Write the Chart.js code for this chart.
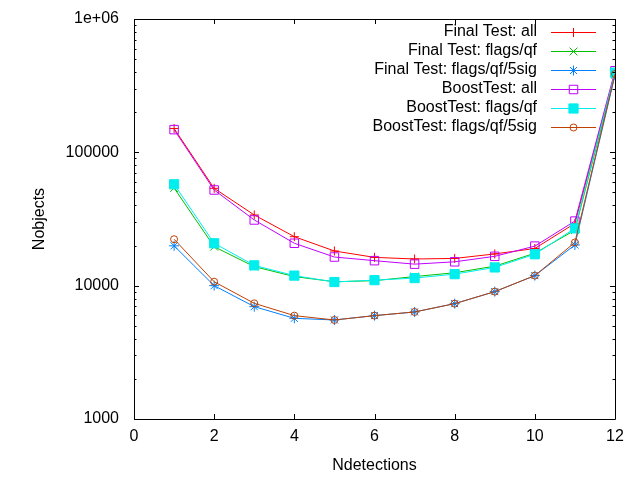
<!DOCTYPE html>
<html>
<head>
<meta charset="utf-8">
<script src="https://cdn.jsdelivr.net/npm/chart.js@4.4.1/dist/chart.umd.min.js"></script>
<style>
  html, body { margin: 0; padding: 0; background: #fff; }
  #wrap { width: 640px; height: 480px; }
</style>
</head>
<body>
<div id="wrap"><canvas id="chart" width="640" height="480"></canvas></div>
<script>
// Nombre de détections (axe x)
const ndetections = [1, 2, 3, 4, 5, 6, 7, 8, 9, 10, 11, 12];

// valeurs
const finalAll = [151000, 53700, 33900, 23300, 18200, 16300, 15850, 16000, 17300, 19000, 29300, 394000];
const finalFlags = [54000, 19600, 13900, 11700, 10700, 10900, 11700, 12500, 14000, 17500, 26100, 385000];
const final5sig = [19900, 10000, 6960, 5690, 5530, 5960, 6350, 7330, 9020, 11900, 20200, 380000];
const boostAll = [148000, 52200, 31100, 20800, 16400, 15400, 14500, 15100, 16600, 19800, 30500, 409000];
const boostFlags = [57600, 20800, 14200, 11900, 10650, 11000, 11400, 12200, 13700, 17200, 26900, 396000];
const boost5sig = [22300, 10700, 7370, 5960, 5530, 5960, 6350, 7330, 9020, 11900, 21100, 387000];

const seriesNames = [
  "Final Test: all", "Final Test: flags/qf", "Final Test: flags/qf/5sig",
  "BoostTest: all", "BoostTest: flags/qf", "BoostTest: flags/qf/5sig"
];

const xTicks = [0, 2, 4, 6, 8, 10, 12];
const yTickValues = [1000, 10000, 100000, 1000000];
const yTickLabels = ["1000", "10000", "100000", "1e+06"];

const FONT = "Liberation Sans";
Chart.defaults.font.family = FONT;
Chart.defaults.font.size = 16;
Chart.defaults.color = "#000";

function points(values) {
  return values.map((v, i) => ({ x: ndetections[i], y: v }));
}

const styles = [
  { color: "#ff0000", pointStyle: "cross", radius: 4.5, fill: false },
  { color: "#00c000", pointStyle: "crossRot", radius: 5.5, fill: false },
  { color: "#0080ff", pointStyle: "star", radius: 5, fill: false },
  { color: "#c000ff", pointStyle: "rect", radius: 6, fill: false },
  { color: "#00eeee", pointStyle: "rect", radius: 6.5, fill: true },
  { color: "#c04000", pointStyle: "circle", radius: 3.5, fill: false }
];

const allValues = [finalAll, finalFlags, final5sig, boostAll, boostFlags, boost5sig];

const datasets = allValues.map((vals, i) => ({
  label: seriesNames[i],
  data: points(vals),
  borderColor: styles[i].color,
  backgroundColor: styles[i].fill ? styles[i].color : "rgba(0,0,0,0)",
  pointBorderColor: styles[i].color,
  pointBackgroundColor: styles[i].fill ? styles[i].color : "rgba(0,0,0,0)",
  pointStyle: styles[i].pointStyle,
  pointRadius: styles[i].radius,
  pointHoverRadius: styles[i].radius,
  pointBorderWidth: 1,
  borderWidth: 1,
  tension: 0,
  order: 6 - i
}));

// bordure, graduations vers l'intérieur et légende à la gnuplot
const gnuplotDecor = {
  id: "gnuplotDecor",
  afterDraw(chart) {
    const ctx = chart.ctx;
    const a = chart.chartArea;
    const xs = chart.scales.x;
    const ys = chart.scales.y;
    ctx.save();
    ctx.strokeStyle = "#000";
    ctx.lineWidth = 1;
    ctx.beginPath();
    ctx.rect(Math.round(a.left) + 0.5, Math.round(a.top) + 0.5,
      Math.round(a.right - a.left), Math.round(a.bottom - a.top));
    ctx.stroke();

    ctx.beginPath();
    xTicks.forEach(t => {
      const px = Math.round(xs.getPixelForValue(t)) + 0.5;
      ctx.moveTo(px, a.bottom); ctx.lineTo(px, a.bottom - 5);
      ctx.moveTo(px, a.top); ctx.lineTo(px, a.top + 5);
    });
    for (let d = 1000; d <= 1000000; d *= 10) {
      for (let m = 1; m <= 9; m++) {
        const v = d * m;
        if (v > 1000000) break;
        const py = Math.round(ys.getPixelForValue(v)) + 0.5;
        const len = m === 1 ? 5 : 2.5;
        ctx.moveTo(a.left, py); ctx.lineTo(a.left + len, py);
        ctx.moveTo(a.right, py); ctx.lineTo(a.right - len, py);
      }
    }
    ctx.stroke();

    // légende
    ctx.font = "16px '" + FONT + "'";
    ctx.textAlign = "right";
    ctx.textBaseline = "middle";
    chart.data.datasets.forEach((ds, i) => {
      const y = 32 + 19 * i;
      ctx.fillStyle = "#000";
      ctx.fillText(ds.label, 537, y);
      ctx.strokeStyle = ds.borderColor;
      ctx.beginPath();
      ctx.moveTo(551, y + 0.5);
      ctx.lineTo(596, y + 0.5);
      ctx.stroke();
      ctx.fillStyle = ds.pointBackgroundColor;
      Chart.helpers.drawPoint(ctx, {
        pointStyle: ds.pointStyle,
        radius: ds.pointRadius,
        rotation: 0,
        borderWidth: 1
      }, 573.5, y + 0.5);
    });
    ctx.restore();
  }
};

new Chart(document.getElementById("chart"), {
  type: "line",
  data: { datasets },
  options: {
    responsive: false,
    animation: false,
    devicePixelRatio: 1,
    layout: { padding: { left: 0, top: 19, right: 25, bottom: 0 } },
    plugins: { legend: { display: false }, tooltip: { enabled: false } },
    scales: {
      x: {
        type: "linear",
        min: 0,
        max: 12,
        afterBuildTicks: s => { s.ticks = xTicks.map(v => ({ value: v })); },
        afterFit: s => { s.height = 61; s.paddingLeft = 0; s.paddingRight = 0; },
        grid: { display: false, drawTicks: false },
        border: { display: false },
        ticks: { padding: 8, autoSkip: false, maxRotation: 0, font: { size: 16 } },
        title: { display: true, text: "Ndetections", padding: { top: 0, bottom: 5 }, font: { size: 16 } }
      },
      y: {
        type: "logarithmic",
        min: 1000,
        max: 1000000,
        afterBuildTicks: s => { s.ticks = yTickValues.map(v => ({ value: v })); },
        afterFit: s => { s.width = 134; s.paddingTop = 0; s.paddingBottom = 0; },
        grid: { display: false, drawTicks: false },
        border: { display: false },
        ticks: {
          padding: 15,
          autoSkip: false,
          font: { size: 16 },
          callback: (v) => {
            const k = yTickValues.indexOf(v);
            return k >= 0 ? yTickLabels[k] : "";
          }
        },
        title: { display: true, text: "Nobjects", padding: { top: 30, bottom: 0 }, font: { size: 16 } }
      }
    }
  },
  plugins: [gnuplotDecor]
});
</script>
</body>
</html>
